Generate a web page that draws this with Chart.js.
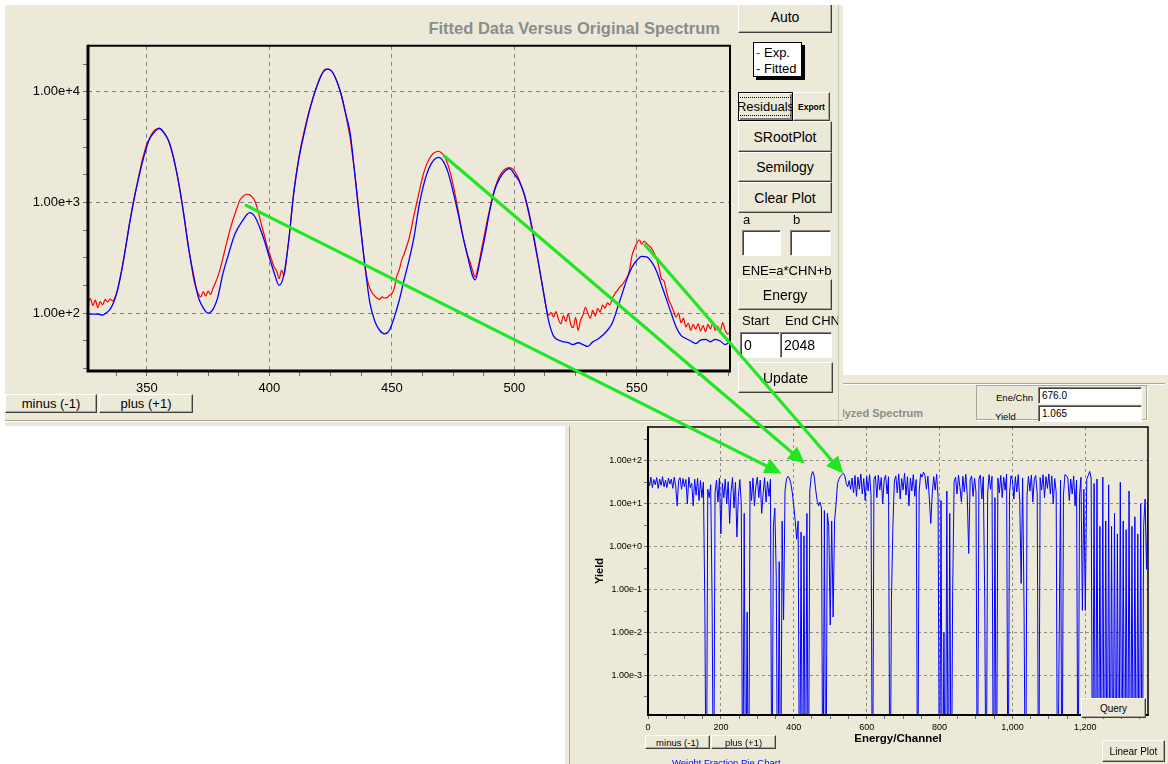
<!DOCTYPE html>
<html>
<head>
<meta charset="utf-8">
<title>Spectrum fit</title>
<script src="https://cdn.jsdelivr.net/npm/chart.js@4.4.1/dist/chart.umd.min.js"></script>
<style>
html, body { margin: 0; padding: 0; background: #fff; }
body { width: 1168px; height: 764px; position: relative; overflow: hidden; font-family: "Liberation Sans", Arial, Helvetica, sans-serif; color: #000; }
.panel { position: absolute; background: #ECE9D8; overflow: hidden; }
#fitPanel { left: 5px; top: 5px; width: 838px; height: 421px; z-index: 2; }
#specPanel { left: 565px; top: 375px; width: 603px; height: 389px; z-index: 1; }
canvas { position: absolute; }
.btn { position: absolute; box-sizing: border-box; background: #ECE9D8; border: 1px solid; border-color: #fff #404040 #404040 #fff; box-shadow: inset -1px -1px 0 #ACA899; display: flex; align-items: center; justify-content: center; white-space: nowrap; overflow: hidden; font-size: 14px; }
.btn.small { font-size: 10px; }
.btn.def { border: 1px solid #000; box-shadow: inset 1px 1px 0 #fff, inset -2px -2px 0 #808080; }
.btn.def span { border: 1px dotted #000; padding: 1px 0; }
.field { position: absolute; box-sizing: border-box; background: #fff; border: 1px solid; border-color: #808080 #fff #fff #808080; box-shadow: inset 1px 1px 0 #404040; padding-left: 3px; display: flex; align-items: center; font-size: 14px; }
.lbl { position: absolute; white-space: nowrap; font-size: 13px; }
.hline { position: absolute; height: 1px; background: #ACA899; border-bottom: 1px solid #fff; }
.vline { position: absolute; width: 1px; background: #ACA899; }
#legendBox { position: absolute; left: 748px; top: 37px; width: 49px; height: 35px; box-sizing: border-box; background: #fff; border: 1px solid #000; box-shadow: 3px 3px 0 #000; font-size: 13px; line-height: 16px; padding: 2px 0 0 2px; }
.title { position: absolute; font-weight: bold; color: #8C8C8C; text-align: right; white-space: nowrap; }
#arrowLayer { left: 0; top: 0; z-index: 10; pointer-events: none; }
</style>
</head>
<body>

<div id="specPanel" class="panel">
  <div class="hline" style="left:5px; top:8px; width:595px;"></div>
  <div class="vline" style="left:4px; top:48px; height:341px;"></div>
  <div class="title" style="left:0; top:31px; width:358px; font-size:11px; line-height:14px;">Analyzed Spectrum</div>
  <div style="position:absolute; left:411px; top:10px; width:171px; height:35px; box-sizing:border-box; border:1px solid #ACA899; box-shadow:1px 1px 0 #fff;"></div>
  <div class="lbl" style="left:420px; width:48px; top:17px; font-size:9.5px; text-align:right;">Ene/Chn</div>
  <div class="field" style="left:473px; top:12px; width:104px; height:17px; font-size:10px;">676.0</div>
  <div class="lbl" style="left:430px; top:36px; font-size:9.5px; background:#ECE9D8;">Yield</div>
  <div class="field" style="left:473px; top:30px; width:104px; height:17px; font-size:10px;">1.065</div>
  <canvas id="specChart" width="590" height="365" style="left:5px; top:20px; width:590px; height:365px;"></canvas>
  <div class="btn small" style="left:516px; top:323px; width:65px; height:20px;">Query</div>
  <div class="btn small" style="left:80px; top:360px; width:65px; height:14px; font-size:9.5px;">minus (-1)</div>
  <div class="btn small" style="left:146px; top:360px; width:65px; height:14px; font-size:9.5px;">plus (+1)</div>
  <div class="btn small" style="left:537px; top:365px; width:63px; height:22px;">Linear Plot</div>
  <div class="lbl" style="left:107px; top:382px; font-size:9.5px; color:#0000FF;">Weight Fraction Pie Chart</div>
</div>

<div id="fitPanel" class="panel">
  <div class="title" style="left:0; top:12px; width:715px; font-size:16.5px; line-height:22px;">Fitted Data Versus Original Spectrum</div>
  <canvas id="fitChart" width="735" height="385" style="left:0; top:30px; width:735px; height:385px;"></canvas>
  <div class="btn" style="left:733px; top:-4px; width:94px; height:32px;">Auto</div>
  <div id="legendBox"></div>
  <div class="btn def" style="left:733px; top:87px; width:55px; height:29px; font-size:13px;"><span>Residuals</span></div>
  <div class="btn" style="left:788px; top:87px; width:37px; height:29px; font-size:8.5px; font-weight:bold;">Export</div>
  <div class="btn" style="left:733px; top:116px; width:94px; height:31px;">SRootPlot</div>
  <div class="btn" style="left:733px; top:147px; width:94px; height:30px;">Semilogy</div>
  <div class="btn" style="left:733px; top:177px; width:94px; height:31px;">Clear Plot</div>
  <div class="lbl" style="left:738px; top:207px;">a</div>
  <div class="lbl" style="left:788px; top:207px;">b</div>
  <div class="field" style="left:737px; top:225px; width:39px; height:26px;"></div>
  <div class="field" style="left:785px; top:225px; width:41px; height:26px;"></div>
  <div class="lbl" style="left:737px; top:258px;">ENE=a*CHN+b</div>
  <div class="btn" style="left:733px; top:274px; width:94px; height:31px;">Energy</div>
  <div class="lbl" style="left:737px; top:308px;">Start</div>
  <div class="lbl" style="left:780px; top:308px;">End CHN</div>
  <div class="field" style="left:735px; top:327px; width:40px; height:26px;">0</div>
  <div class="field" style="left:775px; top:327px; width:52px; height:26px;">2048</div>
  <div class="btn" style="left:733px; top:357px; width:95px; height:31px;">Update</div>
  <div class="btn" style="left:0; top:389px; width:92px; height:19px; font-size:13px;">minus (-1)</div>
  <div class="btn" style="left:94px; top:389px; width:94px; height:19px; font-size:13px;">plus (+1)</div>
  <div class="hline" style="left:0; top:415px; width:838px;"></div>
  <div class="vline" style="left:833px; top:0; height:421px; background:#C9C5B5;"></div>
</div>

<canvas id="arrowLayer" width="1168" height="764" style="width:1168px; height:764px;"></canvas>

<script>
const FONT = "'Liberation Sans', Arial, Helvetica, sans-serif";
Chart.defaults.font.family = FONT;
Chart.defaults.color = '#000';

// ---- Fit window: experimental counts, one value per channel from 326 to 588 ----
const EXP_FIRST_CHANNEL = 326;
const expCounts = [
  125, 135, 117, 131, 112, 127, 119, 133, 126, 134,   // 326-335
  129, 138, 160, 205, 260, 350, 480, 660, 880, 1150,  // 336-345
  1450, 1850, 2350, 2850, 3350, 3750, 4150, 4450, 4600, 4650, // 346-355
  4550, 4300, 3950, 3550, 3000, 2450, 1950, 1500, 1120, 800,  // 356-365
  570, 400, 290, 210, 170, 150, 140, 156, 143, 158,   // 366-375
  147, 168, 188, 215, 255, 310, 385, 470, 570, 680,   // 376-385
  790, 920, 1050, 1120, 1165, 1185, 1170, 1120, 1040, 900, // 386-395
  740, 600, 500, 410, 350, 300, 260, 240, 205, 245,   // 396-405
  218, 310, 470, 780, 1250, 1800, 2500, 3300, 4200, 5200, // 406-415
  6400, 7600, 9000, 10500, 12200, 13800, 15000, 15800, 16000, 15600, // 416-425
  14700, 13300, 11700, 10000, 8300, 6600, 5000, 3800, 2600, 1750,    // 426-435
  1100, 680, 420, 270, 200, 168, 152, 143, 136, 133,  // 436-445
  140, 137, 138, 145, 150, 168, 215, 245, 300, 340,   // 446-455
  400, 470, 590, 760, 960, 1200, 1520, 1850, 2150, 2400, // 456-465
  2620, 2780, 2860, 2900, 2830, 2700, 2450, 2150, 1800, 1450, // 466-475
  1130, 860, 650, 500, 400, 330, 285, 240, 212, 250,  // 476-485
  320, 420, 540, 700, 880, 1100, 1330, 1550, 1740, 1880, // 486-495
  1980, 2040, 2060, 2030, 1930, 1780, 1590, 1380, 1170, 960, // 496-505
  770, 600, 460, 350, 270, 200, 150, 112, 96, 101,    // 506-515
  92, 103, 88, 80, 95, 84, 99, 79, 74, 91,            // 516-525
  70, 86, 96, 113, 99, 90, 106, 94, 110, 102,         // 526-535
  118, 111, 124, 119, 136, 150, 160, 172, 180, 195,   // 536-545
  210, 245, 330, 385, 430, 460, 420, 448, 425, 405,   // 546-555
  385, 350, 315, 260, 205, 196, 160, 132, 118, 104,   // 556-565
  92, 100, 82, 90, 75, 81, 70, 79, 72, 80,            // 566-575
  69, 77, 68, 79, 72, 81, 70, 76, 68, 82,             // 576-585
  70, 65, 66                                          // 586-588
];

// ---- Fit window: fitted curve ----
const fitChannels = [
  326, 328, 330, 332, 333, 335, 337, 339, 341, 343, 345, 347, 349, 351, 353, 355, 357, 359, 361, 363,
  365, 367, 369, 371, 373, 375, 377, 379, 381, 383, 386, 389, 392, 394, 396, 398, 400, 402, 404, 406,
  408, 410, 412, 414, 417, 420, 423, 425, 427, 429, 431, 433, 435, 437, 439, 441, 443, 445, 447, 449,
  451, 453, 455, 457, 459, 461, 463, 465, 467, 469, 471, 473, 475, 477, 479, 481, 483, 484, 486, 488,
  490, 492, 494, 496, 498, 500, 502, 504, 506, 508, 510, 512, 514, 516, 519, 522, 524, 526, 528, 530,
  532, 534, 536, 538, 540, 542, 544, 546, 548, 550, 552, 554, 556, 558, 560, 562, 564, 566, 568, 570,
  572, 574, 576, 578, 580, 582, 584, 586, 588
];
const fitCounts = [
  98, 98, 98, 96, 99, 108, 135, 200, 350, 650, 1120, 1790, 2690, 3700, 4300, 4680, 4250, 3550, 2500, 1500,
  800, 390, 225, 140, 112, 100, 108, 140, 225, 320, 520, 680, 810, 750, 600, 450, 320, 230, 178, 225,
  470, 1230, 2450, 4000, 7600, 12200, 16000, 15700, 13300, 10000, 6500, 4200, 1700, 650, 270, 125, 85, 70, 65, 70,
  92, 130, 200, 300, 480, 900, 1450, 2000, 2400, 2550, 2350, 1850, 1250, 800, 490, 320, 215, 200, 300, 490,
  850, 1300, 1650, 1900, 2020, 1800, 1550, 1200, 800, 480, 270, 150, 85, 62, 56, 54, 52, 54, 52, 50,
  55, 58, 63, 70, 82, 110, 150, 205, 260, 300, 325, 322, 290, 240, 180, 135, 100, 75, 63, 59,
  56, 53, 57, 58, 55, 58, 56, 52, 55
];

const fitXLabels = [350, 400, 450, 500, 550];
const fitXMinorStep = 12.5;

// ---- Full analysed spectrum: yield every SPECTRUM_STEP channels from channel 0 ----
const SPECTRUM_STEP = 4;
const spectrumYield = [
  // 0-116
  40, 26, 42, 24, 37, 28, 41, 23, 38, 27, 43, 25, 36, 24, 40, 29, 38, 23, 42, 26, 9, 35, 41, 22, 39, 25, 37, 10, 42, 24,
  // 120-152
  30, 9, 38, 16, 40, 12, 35, 14, 32,
  // 156-180
  0.04, 0, 22, 14, 28, 0.05, 0,
  // 184-256
  18, 36, 11, 40, 2, 30, 14, 38, 10, 33, 3.5, 20, 41, 8, 32, 1.7, 15, 37, 10,
  // 260-276
  0, 6, 0, 0.03, 0,
  // 280-336
  34, 12, 40, 9, 26, 42, 14, 36, 6, 18, 41, 11, 33, 15, 38,
  // 340-396
  0, 3, 8, 0.2, 0, 0.45, 0, 4, 0.02, 20, 38, 44, 40, 30, 18,
  // 400-476
  9, 4, 1.5, 4, 0, 2.2, 0, 1.8, 0, 6, 0, 20, 45, 57, 45, 22, 12, 9, 11, 8,
  // 480-556
  0, 7, 0, 6, 3, 0.015, 4, 0.023, 4, 10, 30, 38, 44, 48, 52, 45, 30, 25, 35, 22,
  // 560-876
  40, 18, 46, 15, 42, 22, 50, 17, 39, 12,
  44, 20, 48, 16, 0, 37, 45, 14, 47, 21,
  41, 10, 36, 47, 17, 43, 0, 0.06, 3, 34,
  45, 18, 50, 13, 39, 21, 52, 16, 43, 9,
  40, 20, 48, 15, 37, 0, 19, 50, 42, 55,
  46, 22, 44, 13, 3.5, 18, 43, 21, 49, 14,
  0, 12, 0, 0.01, 0, 20, 0, 6, 0, 0.09,
  33, 42, 17, 47, 24, 11, 44, 19, 49, 16,
  // 880-1216
  0.7, 36, 45, 15, 40, 19, 0, 38, 47, 13,
  43, 0.06, 0, 18, 48, 22, 44, 0, 14, 0,
  40, 18, 46, 14, 42, 21, 50, 0, 17, 45,
  37, 13, 43, 19, 48, 12, 0.14, 40, 0.03, 0,
  16, 44, 20, 47, 11, 38, 46, 17, 0, 41,
  21, 48, 14, 43, 23, 50, 17, 45, 10, 39,
  19, 0, 0.004, 36, 0, 16, 48, 46, 40, 12,
  38, 17, 45, 9, 36, 0, 15, 42, 0.033, 22,
  0.033, 38, 46, 57, 40,
  // 1220-1372
  0, 30, 0, 38, 0, 3, 0, 42, 0, 4,
  0, 28, 0, 3, 0, 6, 0, 2, 0, 32,
  0, 4, 0, 2.5, 0, 20, 0, 3, 0, 5,
  0, 2, 0, 10, 0, 3, 13, 0.3, 12
];
const specXLabels = [0, 200, 400, 600, 800, 1000, 1200];
const specXMinorStep = 50;

// Peaks in the fit window and where they sit in the full spectrum
const arrowFrom = [[390.5, 940], [471.5, 2610], [553.3, 413]];
const arrowTo = [[366.5, 51], [430.5, 87], [535.7, 51]];

// ---- helpers ----
function stepTicks(min, max, step) {
  const out = [];
  for (let k = Math.ceil(min / step - 1e-9); k * step <= max + 1e-9; k++) out.push({ value: +(k * step).toFixed(6) });
  return out;
}
function logTicks(min, max, perDecade) {
  const out = [];
  const lo = Math.ceil(Math.log10(min) * perDecade - 1e-9);
  const hi = Math.floor(Math.log10(max) * perDecade + 1e-9);
  for (let k = lo; k <= hi; k++) out.push({ value: Math.pow(10, k / perDecade) });
  return out;
}
const isDecade = v => Math.abs(Math.log10(v) - Math.round(Math.log10(v))) < 1e-6;
const sci = v => v.toExponential(2);

// Draws the plot frame: heavy left/bottom axes, lighter top/right edges
const framePlugin = {
  id: 'frame',
  afterDraw(chart, args, opts) {
    const { ctx, chartArea: { left, right, top, bottom } } = chart;
    ctx.save();
    ctx.strokeStyle = '#000';
    ctx.lineWidth = opts.thin;
    ctx.beginPath();
    ctx.moveTo(left, top); ctx.lineTo(right, top); ctx.lineTo(right, bottom);
    ctx.stroke();
    ctx.lineWidth = opts.thick;
    ctx.beginPath();
    ctx.moveTo(left, top - opts.thin / 2); ctx.lineTo(left, bottom); ctx.lineTo(right + opts.thin / 2, bottom);
    ctx.stroke();
    ctx.restore();
  }
};

// ---- fitted vs experimental chart ----
const fitChart = new Chart(document.getElementById('fitChart'), {
  type: 'line',
  data: {
    datasets: [
      {
        label: 'Exp.',
        data: expCounts.map((y, i) => ({ x: EXP_FIRST_CHANNEL + i, y })),
        borderColor: '#ff0000', borderWidth: 1.2, pointRadius: 0, order: 1,
        cubicInterpolationMode: 'monotone'
      },
      {
        label: 'Fitted',
        data: fitChannels.map((x, i) => ({ x, y: fitCounts[i] })),
        borderColor: '#0000ff', borderWidth: 1.3, pointRadius: 0, order: 0,
        cubicInterpolationMode: 'monotone'
      }
    ]
  },
  options: {
    responsive: false, animation: false, events: [],
    layout: { padding: { top: 9, right: 10, left: 0, bottom: 0 } },
    plugins: { legend: { display: false }, tooltip: { enabled: false }, frame: { thick: 3, thin: 2 } },
    scales: {
      x: {
        type: 'linear', min: 326, max: 588, bounds: 'data',
        afterBuildTicks: s => { s.ticks = stepTicks(s.min, s.max, fitXMinorStep); },
        afterFit: s => { s.height = 49; },
        grid: {
          color: c => (c.tick && fitXLabels.includes(c.tick.value)) ? '#808080' : 'rgba(0,0,0,0)',
          lineWidth: 1, drawTicks: true, tickLength: 5, tickColor: '#707070', tickWidth: 1
        },
        border: { display: false, dash: [4, 4] },
        ticks: {
          autoSkip: false, maxRotation: 0, padding: 5, color: '#000', font: { size: 13 },
          callback: v => fitXLabels.includes(v) ? String(v) : ''
        }
      },
      y: {
        type: 'logarithmic', min: 30, max: 26000, bounds: 'data',
        afterBuildTicks: s => { s.ticks = logTicks(s.min, s.max, 4); },
        afterFit: s => { s.width = 83; },
        grid: {
          color: c => (c.tick && isDecade(c.tick.value)) ? '#808080' : 'rgba(0,0,0,0)',
          lineWidth: 1, drawTicks: true, tickLength: 5, tickColor: '#707070', tickWidth: 1
        },
        border: { display: false, dash: [4, 4] },
        ticks: {
          autoSkip: false, padding: 3, color: '#000', font: { size: 13 },
          callback: v => isDecade(v) ? sci(v) : ''
        }
      }
    }
  },
  plugins: [framePlugin]
});

// Legend built from the fit chart's datasets
document.getElementById('legendBox').innerHTML = fitChart.data.datasets
  .map(ds => `<div><span style="color:${ds.borderColor}">-</span> ${ds.label}</div>`).join('');

// ---- full spectrum chart ----
const SPEC_Y_MIN = 1.2e-4, SPEC_Y_MAX = 620;
const BELOW_AXIS = 1e-7; // zero yields fall off the bottom of the log axis
const specChart = new Chart(document.getElementById('specChart'), {
  type: 'line',
  data: {
    datasets: [{
      label: 'Yield',
      data: spectrumYield.map((v, i) => ({ x: i * SPECTRUM_STEP, y: v > 0 ? v : BELOW_AXIS })),
      borderColor: '#0000ff', borderWidth: 1, pointRadius: 0, tension: 0
    }]
  },
  options: {
    responsive: false, animation: false, events: [],
    layout: { padding: { top: 32, right: 12, left: 0, bottom: 0 } },
    plugins: { legend: { display: false }, tooltip: { enabled: false }, frame: { thick: 2, thin: 1.5 } },
    scales: {
      x: {
        type: 'linear', min: 0, max: 1372, bounds: 'data',
        afterBuildTicks: s => { s.ticks = stepTicks(s.min, s.max, specXMinorStep); },
        afterFit: s => { s.height = 45; },
        grid: {
          color: c => (c.tick && specXLabels.includes(c.tick.value) && c.tick.value > 0) ? '#8c8c8c' : 'rgba(0,0,0,0)',
          lineWidth: 1, drawTicks: true, tickLength: 4, tickColor: '#707070', tickWidth: 1
        },
        border: { display: false, dash: [3, 3] },
        ticks: {
          autoSkip: false, maxRotation: 0, padding: 3, color: '#000', font: { size: 9 },
          callback: v => specXLabels.includes(v) ? v.toLocaleString('en-US') : ''
        },
        title: { display: true, text: 'Energy/Channel', font: { size: 11.5, weight: 'bold' }, color: '#000', padding: { top: 0, bottom: 14 } }
      },
      y: {
        type: 'logarithmic', min: SPEC_Y_MIN, max: SPEC_Y_MAX, bounds: 'data',
        afterBuildTicks: s => { s.ticks = logTicks(s.min, s.max, 2); },
        afterFit: s => { s.width = 78; },
        grid: {
          color: c => (c.tick && isDecade(c.tick.value)) ? '#8c8c8c' : 'rgba(0,0,0,0)',
          lineWidth: 1, drawTicks: true, tickLength: 4, tickColor: '#707070', tickWidth: 1
        },
        border: { display: false, dash: [3, 3] },
        ticks: {
          autoSkip: false, padding: 2, color: '#000', font: { size: 9 },
          callback: v => isDecade(v) ? sci(v) : ''
        },
        title: { display: true, text: 'Yield', font: { size: 11, weight: 'bold' }, color: '#000', padding: { top: 23, bottom: 0 } }
      }
    }
  },
  plugins: [framePlugin]
});

// ---- arrows linking the fit-window peaks to the full spectrum ----
function drawArrows() {
  const cv = document.getElementById('arrowLayer');
  const ctx = cv.getContext('2d');
  ctx.clearRect(0, 0, cv.width, cv.height);
  const a = fitChart.canvas.getBoundingClientRect();
  const b = specChart.canvas.getBoundingClientRect();
  ctx.strokeStyle = '#22e622';
  ctx.fillStyle = '#22e622';
  ctx.lineWidth = 3.2;
  ctx.lineCap = 'round';
  arrowFrom.forEach(([fx, fy], i) => {
    const [tx, ty] = arrowTo[i];
    const x1 = a.left + fitChart.scales.x.getPixelForValue(fx);
    const y1 = a.top + fitChart.scales.y.getPixelForValue(fy);
    const x2 = b.left + specChart.scales.x.getPixelForValue(tx);
    const y2 = b.top + specChart.scales.y.getPixelForValue(ty);
    const ang = Math.atan2(y2 - y1, x2 - x1);
    const head = 17, half = 8;
    const bx = x2 - head * Math.cos(ang), by = y2 - head * Math.sin(ang);
    ctx.beginPath(); ctx.moveTo(x1, y1); ctx.lineTo(bx, by); ctx.stroke();
    ctx.beginPath();
    ctx.moveTo(x2, y2);
    ctx.lineTo(bx + half * Math.sin(ang), by - half * Math.cos(ang));
    ctx.lineTo(bx - half * Math.sin(ang), by + half * Math.cos(ang));
    ctx.closePath(); ctx.fill();
  });
}
drawArrows();
</script>
</body>
</html>
